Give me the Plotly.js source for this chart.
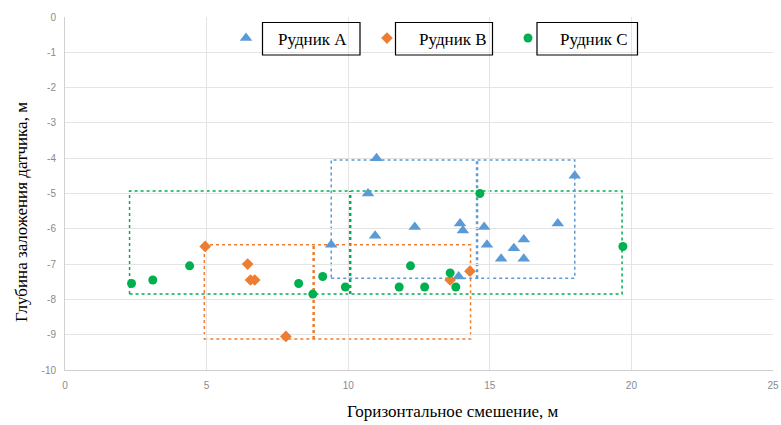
<!DOCTYPE html>
<html>
<head>
<meta charset="utf-8">
<script src="https://cdn.plot.ly/plotly-3.0.1.min.js"></script>
<style>html,body{margin:0;padding:0;background:#fff;}#chart{width:781px;height:425px;}</style>
</head>
<body>
<div id="chart"></div>
<script>
// Рудник А (blue triangles)
const mineA_x = [11.0, 18.0, 10.7, 10.95, 12.35, 9.4, 13.95, 14.05, 14.8, 14.9, 15.4, 15.85, 16.2, 16.2, 17.4, 13.9];
const mineA_y = [-4.0, -4.5, -5.0, -6.2, -5.95, -6.45, -5.85, -6.05, -5.95, -6.45, -6.85, -6.55, -6.3, -6.85, -5.85, -7.35];
// Рудник B (orange diamonds)
const mineB_x = [4.95, 6.45, 6.55, 6.7, 7.8, 13.6, 14.3];
const mineB_y = [-6.5, -7.0, -7.45, -7.45, -9.05, -7.45, -7.2];
// Рудник C (green circles)
const mineC_x = [2.35, 3.1, 4.4, 8.25, 8.75, 9.1, 9.9, 11.8, 12.2, 12.7, 13.6, 13.8, 14.65, 19.7];
const mineC_y = [-7.55, -7.45, -7.05, -7.55, -7.85, -7.35, -7.65, -7.65, -7.05, -7.65, -7.25, -7.65, -5.0, -6.5];
// range boxes [xmin, xmax, ymin, ymax, xmid]
const boxA = [9.4, 18.0, -7.4, -4.05, 14.55];
const boxB = [4.92, 14.32, -9.12, -6.45, 8.78];
const boxC = [2.28, 19.67, -7.85, -4.93, 10.07];
const names = ["Рудник А", "Рудник В", "Рудник С"];
const xTicks = [0, 5, 10, 15, 20, 25];
const yTicks = [0, -1, -2, -3, -4, -5, -6, -7, -8, -9, -10];

const cA = "#5b9bd5", cB = "#ed7d31", cC = "#00b050";

const traces = [
  {x: mineA_x, y: mineA_y, name: names[0], type: "scatter", mode: "markers",
   marker: {symbol: "triangle-up", size: 11, color: cA}},
  {x: mineB_x, y: mineB_y, name: names[1], type: "scatter", mode: "markers",
   marker: {symbol: "diamond", size: 9, color: cB}},
  {x: mineC_x, y: mineC_y, name: names[2], type: "scatter", mode: "markers",
   marker: {symbol: "circle", size: 9, color: cC}}
];

function boxShapes(b, col) {
  return [
    {type: "rect", xref: "x", yref: "y", x0: b[0], x1: b[1], y0: b[2], y1: b[3],
     line: {color: col, width: 1.5, dash: "dot"}, layer: "below"},
    {type: "line", xref: "x", yref: "y", x0: b[4], x1: b[4], y0: b[2], y1: b[3],
     line: {color: col, width: 2.5, dash: "dot"}, layer: "below"}
  ];
}

// legend text boxes (pixel -> paper)
const L = 65, R = 773, T = 17, B = 370;
function px(xp) { return (xp - L) / (R - L); }
function py(yp) { return (B - yp) / (B - T); }
const legBoxes = [[262.5, 360], [395.5, 492.5], [537, 637.5]].map(function (bx) {
  return {type: "rect", xref: "paper", yref: "paper", x0: px(bx[0]), x1: px(bx[1]),
          y0: py(55), y1: py(22.5), line: {color: "#000", width: 1.2}, fillcolor: "rgba(0,0,0,0)"};
});

const layout = {
  width: 781, height: 425,
  margin: {l: 65, r: 8, t: 17, b: 55, autoexpand: false},
  paper_bgcolor: "#fff", plot_bgcolor: "#fff",
  showlegend: true,
  legend: {orientation: "h", x: px(214), y: py(38.5), xanchor: "left", yanchor: "middle",
           font: {family: "Liberation Serif", size: 17, color: "#000"},
           entrywidth: 72, entrywidthmode: "pixels", bgcolor: "rgba(0,0,0,0)", itemwidth: 54},
  xaxis: {range: [0, 25], tickvals: xTicks, ticktext: xTicks.map(String), showgrid: true, automargin: false,
          ticklabeloverflow: "allow",
          gridcolor: "#e4e4e4", gridwidth: 1, zeroline: false, showline: true, linecolor: "#d0d0d0",
          ticks: "", tickfont: {family: "Liberation Sans", size: 10, color: "#8a8a8a"}, ticklabelstandoff: 6},
  yaxis: {range: [-10, 0], tickvals: yTicks, ticktext: yTicks.map(String), showgrid: true, automargin: false,
          ticklabeloverflow: "allow",
          gridcolor: "#e4e4e4", gridwidth: 1, zeroline: false, showline: true, linecolor: "#d0d0d0",
          ticks: "", tickfont: {family: "Liberation Sans", size: 10, color: "#8a8a8a"}, ticklabelstandoff: 6},
  shapes: [].concat(boxShapes(boxC, cC), boxShapes(boxB, cB), boxShapes(boxA, cA), legBoxes),
  annotations: [
    {text: "Горизонтальное смешение, м", xref: "paper", yref: "paper", x: px(453), y: py(411),
     xanchor: "center", yanchor: "middle", showarrow: false,
     font: {family: "Liberation Serif", size: 17, color: "#000"}},
    {text: "Глубина заложения датчика, м", xref: "paper", yref: "paper", x: px(21), y: py(212),
     xanchor: "center", yanchor: "middle", showarrow: false, textangle: -90,
     font: {family: "Liberation Serif", size: 17, color: "#000"}}
  ]
};

Plotly.newPlot("chart", traces, layout, {displayModeBar: false, staticPlot: true});
</script>
</body>
</html>
